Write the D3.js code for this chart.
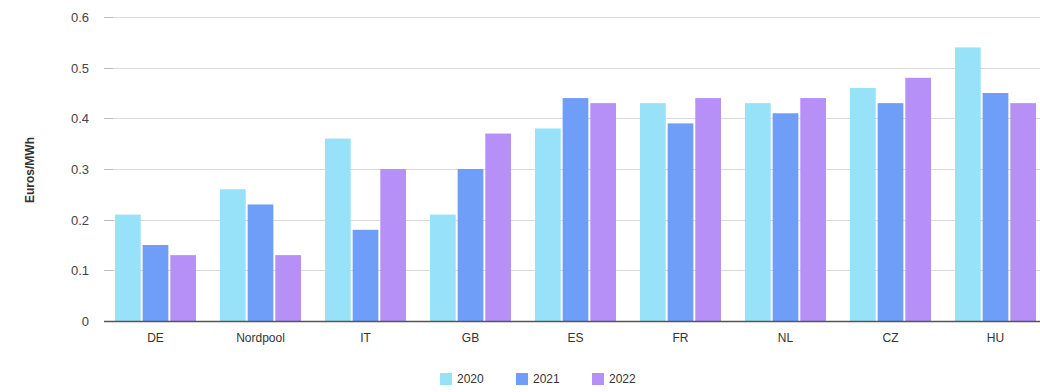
<!DOCTYPE html>
<meta charset="utf-8">
<style>
body { margin: 0; background: #fff; }
text { font-family: "Liberation Sans", Arial, sans-serif; fill: #333; }
.grid line { stroke: #d9d9d9; stroke-width: 1; }
</style>
<svg width="1040" height="392"></svg>
<script src="https://d3js.org/d3.v7.min.js"></script>
<script>
var categories = ["DE", "Nordpool", "IT", "GB", "ES", "FR", "NL", "CZ", "HU"];
var years = ["2020", "2021", "2022"];
var v2020 = [0.21, 0.26, 0.36, 0.21, 0.38, 0.43, 0.43, 0.46, 0.54];
var v2021 = [0.15, 0.23, 0.18, 0.30, 0.44, 0.39, 0.41, 0.43, 0.45];
var v2022 = [0.13, 0.13, 0.30, 0.37, 0.43, 0.44, 0.44, 0.48, 0.43];
var yTicks = [0, 0.1, 0.2, 0.3, 0.4, 0.5, 0.6];
var colors = ["#97e2f8", "#6f9ef8", "#b690f7"];

var series = [v2020, v2021, v2022];
var svg = d3.select("svg");

var x = d3.scaleBand().domain(categories).range([103, 1048]);
var xi = d3.scaleBand().domain(years).range([12, x.bandwidth() - 12]).paddingInner(0.07);
var y = d3.scaleLinear().domain([0, 0.6]).range([321, 17]);

// gridlines
svg.append("g").attr("class", "grid")
  .selectAll("line").data(yTicks.slice(1)).enter().append("line")
  .attr("x1", 104).attr("x2", 1040)
  .attr("y1", function(d) { return Math.round(y(d)) + 0.5; })
  .attr("y2", function(d) { return Math.round(y(d)) + 0.5; });

// y tick marks + labels
var yt = svg.append("g").selectAll("g").data(yTicks).enter().append("g")
  .attr("transform", function(d) { return "translate(0," + (Math.round(y(d)) + 0.5) + ")"; });
yt.append("line").attr("x1", 104).attr("x2", 113).attr("stroke", "#bbb");
yt.append("text").attr("x", 89).attr("dy", "0.35em").attr("text-anchor", "end")
  .style("font-size", "13px").style("fill", "#444")
  .text(function(d) { return d === 0 ? "0" : d3.format(".1f")(d); });

// bars
svg.append("g").selectAll("g").data(series).enter().append("g")
  .attr("fill", function(d, i) { return colors[i]; })
  .each(function(vals, si) {
    d3.select(this).selectAll("rect").data(vals).enter().append("rect")
      .attr("x", function(d, i) { return x(categories[i]) + xi(years[si]); })
      .attr("width", xi.bandwidth())
      .attr("y", function(d) { return y(d); })
      .attr("height", function(d) { return y(0) - y(d); });
  });

// baseline
svg.append("line").attr("x1", 104).attr("x2", 1040)
  .attr("y1", y(0) + 0.5).attr("y2", y(0) + 0.5)
  .attr("stroke", "#555").attr("stroke-width", 1.5);

// x labels
svg.append("g").selectAll("text").data(categories).enter().append("text")
  .attr("x", function(d) { return x(d) + x.bandwidth() / 2; })
  .attr("y", 342).attr("text-anchor", "middle")
  .style("font-size", "12px")
  .text(function(d) { return d; });

// y title
svg.append("text")
  .attr("transform", "translate(34,170) rotate(-90)")
  .attr("text-anchor", "middle")
  .style("font-size", "12px").style("font-weight", "bold").style("fill", "#333")
  .text("Euros/MWh");

// legend
var legX = [440, 516, 592];
var leg = svg.append("g").selectAll("g").data(years).enter().append("g")
  .attr("transform", function(d, i) { return "translate(" + legX[i] + ",373)"; });
leg.append("rect").attr("width", 12).attr("height", 12)
  .attr("fill", function(d, i) { return colors[i]; });
leg.append("text").attr("x", 17).attr("y", 6).attr("dy", "0.35em")
  .style("font-size", "12px")
  .text(function(d) { return d; });
</script>
